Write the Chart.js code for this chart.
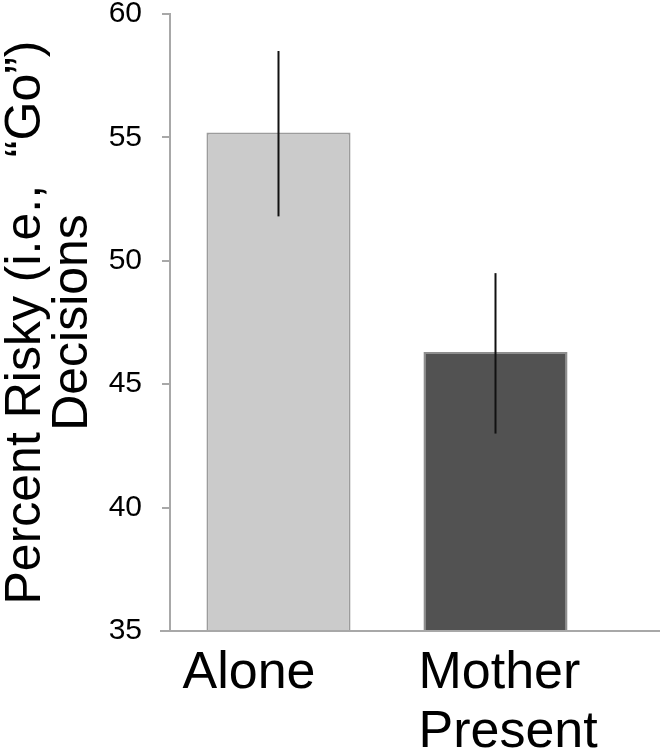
<!DOCTYPE html>
<html>
<head>
<meta charset="utf-8">
<script src="https://cdn.jsdelivr.net/npm/chart.js@4.4.1/dist/chart.umd.min.js"></script>
<style>
  html, body { margin: 0; padding: 0; background: #fff; }
  #wrap { width: 666px; height: 756px; }
</style>
</head>
<body>
<div id="wrap"><canvas id="riskChart"></canvas></div>
<script>
// values
const categories = [['Alone'], ['Mother', 'Present']];
const percentRisky = [55.2, 46.3];
const errLow = [51.8, 43.0];
const errHigh = [58.5, 49.5];
const yTicks = [35, 40, 45, 50, 55, 60];

const FONT = '"Liberation Sans", Arial, Helvetica, sans-serif';
const AXIS_GRAY = '#a8a8a8';

// thin black error bars, no caps
const errorBars = {
    id: 'errorBars',
    afterDatasetsDraw(chart) {
        const { ctx, scales: { y } } = chart;
        const meta = chart.getDatasetMeta(0);
        ctx.save();
        ctx.strokeStyle = '#111';
        ctx.lineWidth = 2;
        meta.data.forEach((bar, i) => {
            ctx.beginPath();
            ctx.moveTo(bar.x, y.getPixelForValue(errLow[i]));
            ctx.lineTo(bar.x, y.getPixelForValue(errHigh[i]));
            ctx.stroke();
        });
        ctx.restore();
    }
};

// category labels sit a bit left of the bars, like the original
const categoryLabels = {
    id: 'categoryLabels',
    afterDraw(chart) {
        const { ctx, chartArea, scales: { x } } = chart;
        const nudge = [-96, -77];
        ctx.save();
        ctx.font = '52px ' + FONT;
        ctx.fillStyle = '#000';
        ctx.textAlign = 'left';
        ctx.textBaseline = 'alphabetic';
        categories.forEach((lines, i) => {
            const left = x.getPixelForValue(i) + nudge[i];
            lines.forEach((line, j) => {
                ctx.fillText(line, left, chartArea.bottom + 57 + j * 59);
            });
        });
        // x axis line, running on past the last bar
        ctx.strokeStyle = AXIS_GRAY;
        ctx.lineWidth = 2;
        ctx.beginPath();
        ctx.moveTo(chartArea.left - 10, chartArea.bottom);
        ctx.lineTo(chart.width - 6, chartArea.bottom);
        ctx.stroke();
        ctx.restore();
    }
};

new Chart(document.getElementById('riskChart'), {
    type: 'bar',
    data: {
        labels: categories,
        datasets: [{
            data: percentRisky,
            backgroundColor: ['#cbcbcb', '#525252'],
            borderColor: ['#9c9c9c', '#8e8e8e'],
            borderWidth: 2,
            barPercentage: 0.664,
            categoryPercentage: 1,
        }]
    },
    options: {
        responsive: true,
        maintainAspectRatio: false,
        animation: false,
        layout: { padding: { top: 14, right: 62, bottom: 0, left: 0 } },
        plugins: {
            legend: { display: false },
            tooltip: { enabled: false },
        },
        scales: {
            x: {
                ticks: { display: false },
                grid: { display: false },
                border: { display: false },
                afterFit: (s) => { s.height = 125; },
            },
            y: {
                min: 35,
                max: 60,
                afterBuildTicks: (s) => { s.ticks = yTicks.map(v => ({ value: v })); },
                border: { color: AXIS_GRAY, width: 2 },
                grid: { drawOnChartArea: false, drawTicks: true, tickLength: 8, color: AXIS_GRAY, lineWidth: 2 },
                ticks: { color: '#000', font: { size: 30, family: FONT }, padding: 20 },
                title: {
                    display: true,
                    text: ['Percent Risky (i.e.,  \u201CGo\u201D)', 'Decisions'],
                    color: '#000',
                    font: { size: 50, family: FONT, lineHeight: 0.95 },
                    padding: { top: 2, bottom: 0 },
                },
                afterFit: (s) => {
                    s.width = 170;
                    s.paddingTop = 0;
                    s.paddingBottom = 0;
                },
            }
        }
    },
    plugins: [errorBars, categoryLabels]
});
</script>
</body>
</html>
